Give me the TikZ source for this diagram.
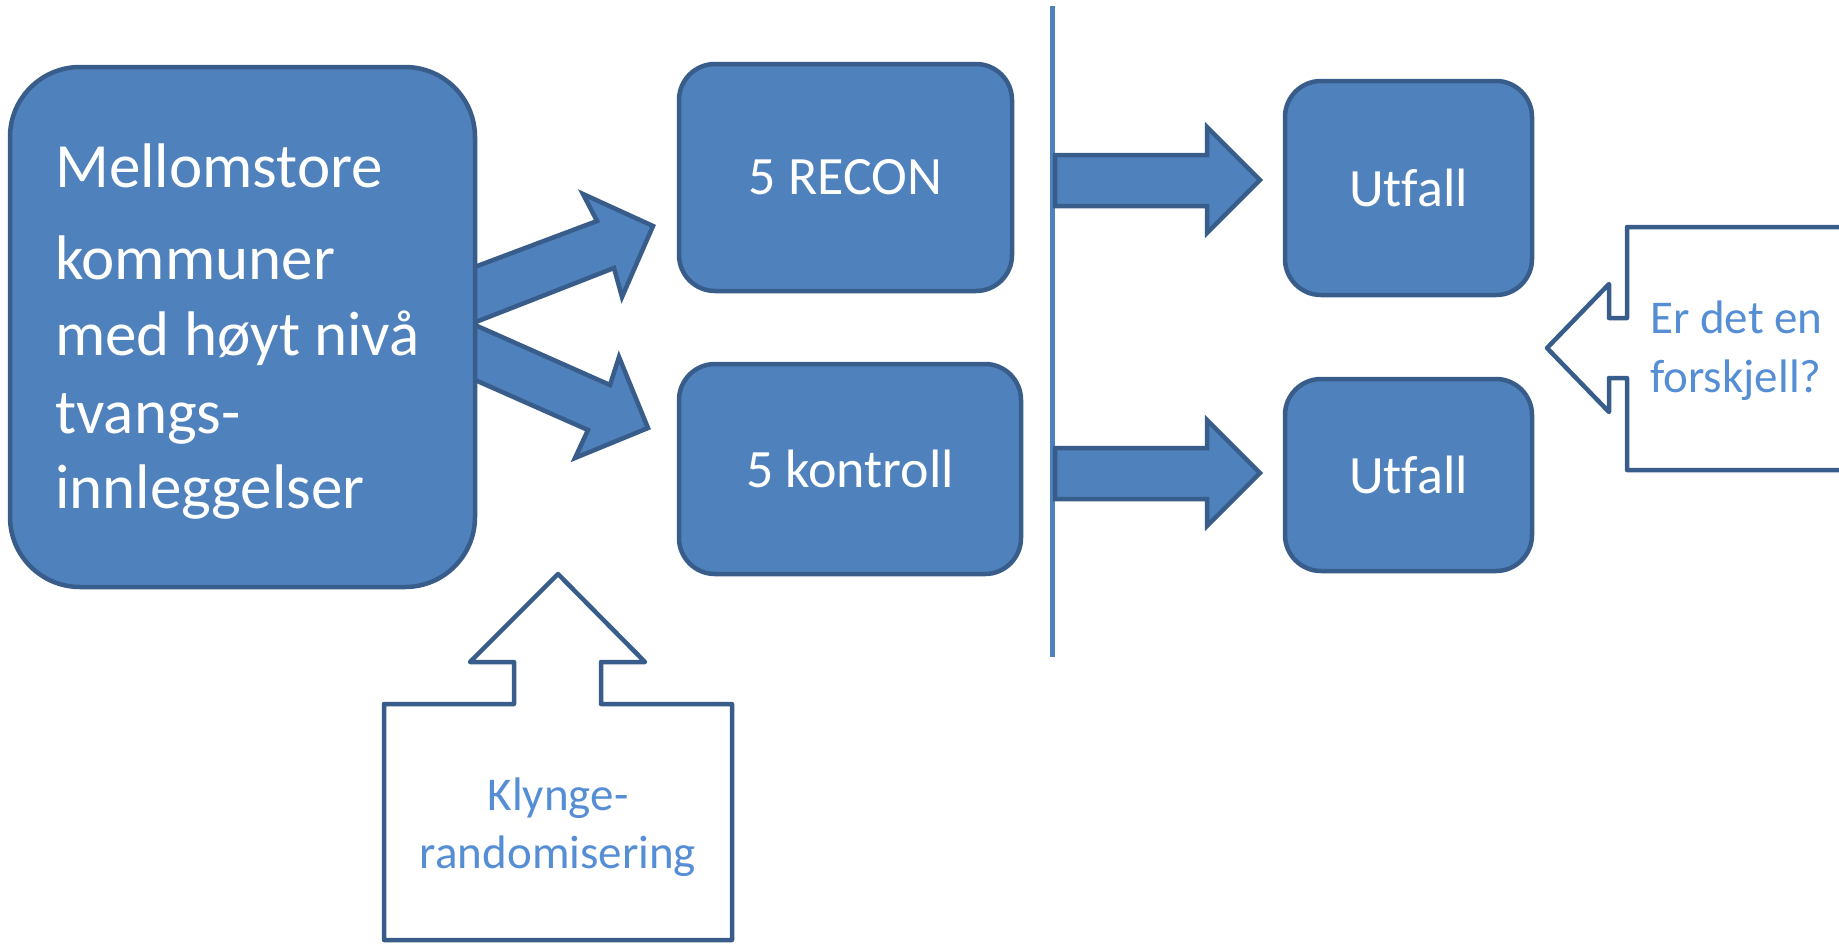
\documentclass[tikz,border=0pt]{standalone}
\usepackage{fontspec}
\setmainfont{Carlito}[Ligatures=NoCommon]
\definecolor{boxfill}{HTML}{4F81BD}
\definecolor{boxline}{HTML}{385D8A}
\definecolor{calltext}{HTML}{558ED5}
\begin{document}
\begin{tikzpicture}[x=1pt,y=-1pt,
  box/.style={draw=boxline, fill=boxfill, line width=4.5pt, rounded corners=36pt, text=white, font=\fontsize{54}{65}\selectfont, inner sep=0pt},
  blockarrow/.style={draw=boxline, fill=boxfill, line width=4.5pt, line join=miter},
  callout/.style={draw=boxline, fill=white, line width=4.5pt, line join=round},
  calltxt/.style={text=calltext, font=\fontsize{47}{58}\selectfont, inner sep=0pt},
  bigtxt/.style={text=white, font=\fontsize{63}{77}\selectfont, inner sep=0pt, anchor=base west},
  divider/.style={draw=boxfill, line width=5pt}]
\useasboundingbox (0,0) rectangle (1839,943);
\clip (0,0) rectangle (1839,943);

% divider line
\coordinate (vtop) at (1052,6);
\coordinate (vbot) at (1052,657);
\draw[divider] (vtop) -- (vbot);

% horizontal block arrows
\draw[blockarrow] (1055,155) -- (1207,155) -- (1207,127) -- (1260,180) -- (1207,233) -- (1207,206) -- (1055,206) -- cycle;
\draw[blockarrow] (1055,448) -- (1207,448) -- (1207,420) -- (1260,473) -- (1207,526) -- (1207,499) -- (1055,499) -- cycle;

% diagonal block arrows (behind the big box)
\draw[blockarrow] (440,280) -- (597,221) -- (583,194) -- (653,226) -- (622,297) -- (614,268) -- (440,336) -- cycle;
\draw[blockarrow] (440,309.5) -- (610,385) -- (619,357) -- (648,428) -- (575,458) -- (588,430) -- (440,364.5) -- cycle;

% boxes
\node[box, rounded corners=70pt, minimum width=465pt, minimum height=520pt] (main) at (242.5,327) {};
\node[box, minimum width=333pt, minimum height=227pt] (recon) at (845.5,177.5) {5 RECON};
\node[box, minimum width=342pt, minimum height=210pt] (kontroll) at (850,469) {5 kontroll};
\node[box, minimum width=247pt, minimum height=214pt] (utfall1) at (1408.5,188) {Utfall};
\node[box, minimum width=247pt, minimum height=192pt] (utfall2) at (1408.5,475) {Utfall};

% big box text
\node[bigtxt] (l1) at (55,187) {Mellomstore};
\node[bigtxt] (l2) at (55,279) {kommuner};
\node[bigtxt] (l3) at (55,355) {med høyt nivå};
\node[bigtxt] (l4) at (55,433) {tvangs-};
\node[bigtxt] (l5) at (55,508) {innleggelser};

% callout: Klynge-randomisering
\draw[callout] (384,940) -- (384,704) -- (514,704) -- (514,662) -- (470,662) -- (558,574) -- (645,662) -- (601,662) -- (601,704) -- (732,704) -- (732,940) -- cycle;
\node[calltxt, anchor=base] (k1) at (558,810) {Klynge-};
\node[calltxt, anchor=base] (k2) at (558,868) {randomisering};

% callout: Er det en forskjell?
\draw[callout] (1900,227) -- (1627,227) -- (1627,318) -- (1609,318) -- (1609,284) -- (1547,348) -- (1609,412) -- (1609,378) -- (1627,378) -- (1627,470) -- (1900,470);
\node[calltxt, anchor=base west] (q1) at (1650,333) {Er det en};
\node[calltxt, anchor=base west] (q2) at (1650,392) {forskjell?};
\end{tikzpicture}
\end{document}
